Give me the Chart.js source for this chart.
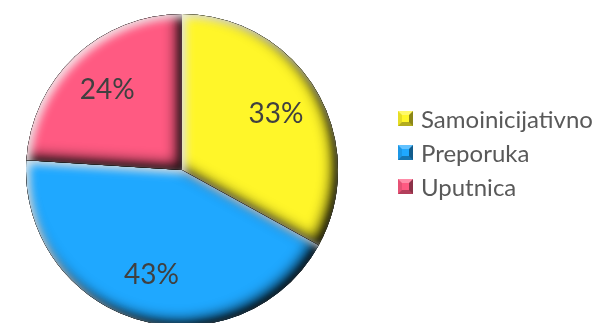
<!DOCTYPE html>
<html>
<head>
<meta charset="utf-8">
<script src="https://cdn.jsdelivr.net/npm/chart.js@4/dist/chart.umd.min.js"></script>
<style>
  html, body { margin: 0; padding: 0; background: #fff; overflow: hidden; }
  #wrap { position: relative; width: 605px; height: 326px; }
  #legend { position: absolute; left: 398px; top: 101px; font-family: Lato, sans-serif; font-size: 24px; color: #595959; }
  .item { display: flex; align-items: center; height: 34px; }
  .swatch { width: 15px; height: 15px; margin-right: 8px; box-sizing: border-box; border-style: solid; border-width: 4px; }
</style>
</head>
<body>
<div id="wrap">
  <canvas id="pie" width="605" height="326"></canvas>
  <div id="legend"></div>
</div>
<script>
const LABELS = ['Samoinicijativno', 'Preporuka', 'Uputnica'];
const VALUES = [33, 43, 24];
const COLORS = ['#FFF629', '#1FA8FF', '#FF5A82'];

function shade(hex, f) {
  const c = hex.replace('#', '');
  const ch = [0, 2, 4].map((i) => parseInt(c.slice(i, i + 2), 16));
  const out = ch.map((v) => Math.round(f < 0 ? v * (1 + f) : v + (255 - v) * f));
  return `rgb(${out.join(',')})`;
}

// Bevel: inner shadow on the lower/right edges, highlight on the upper/left.
const bevel = {
  id: 'bevel',
  afterDatasetsDraw(chart) {
    const ctx = chart.ctx;
    chart.getDatasetMeta(0).data.forEach((arc) => {
      const { x, y, startAngle, endAngle, outerRadius } = arc.getProps(['x', 'y', 'startAngle', 'endAngle', 'outerRadius'], true);
      const slice = () => {
        ctx.moveTo(x, y);
        ctx.arc(x, y, outerRadius, startAngle, endAngle);
        ctx.closePath();
      };
      const inner = (color, blur, dx, dy) => {
        ctx.save();
        ctx.beginPath();
        slice();
        ctx.clip();
        ctx.beginPath();
        ctx.rect(-1000, -1000, 3000, 3000);
        slice();
        ctx.shadowColor = color;
        ctx.shadowBlur = blur;
        ctx.shadowOffsetX = dx;
        ctx.shadowOffsetY = dy;
        ctx.fillStyle = '#000';
        ctx.fill('evenodd');
        ctx.restore();
      };
      inner('rgba(0,0,0,0.9)', 14, -5, -5);
      inner('rgba(0,0,0,0.5)', 6, -2, -2);
      inner('rgba(255,255,255,0.85)', 8, 4, 4);
    });
  },
};

const pctLabels = {
  id: 'pctLabels',
  afterDraw(chart) {
    const ctx = chart.ctx;
    ctx.save();
    ctx.font = '28px Lato, sans-serif';
    ctx.fillStyle = '#404040';
    ctx.textAlign = 'center';
    ctx.textBaseline = 'middle';
    chart.getDatasetMeta(0).data.forEach((arc, i) => {
      const { x, y, startAngle, endAngle, outerRadius } = arc.getProps(['x', 'y', 'startAngle', 'endAngle', 'outerRadius'], true);
      const mid = (startAngle + endAngle) / 2;
      const r = outerRadius * 0.7;
      ctx.fillText(VALUES[i] + '%', x + Math.cos(mid) * r, y + Math.sin(mid) * r);
    });
    ctx.restore();
  },
};

new Chart(document.getElementById('pie'), {
  type: 'pie',
  data: {
    labels: LABELS,
    datasets: [{
      data: VALUES,
      backgroundColor: COLORS,
      borderWidth: 0,
    }],
  },
  options: {
    responsive: false,
    animation: false,
    layout: { padding: { left: 26, top: 14, right: 267, bottom: 0 } },
    plugins: { legend: { display: false }, tooltip: { enabled: false } },
  },
  plugins: [bevel, pctLabels],
});

// Legend with small bevelled swatches
const legend = document.getElementById('legend');
LABELS.forEach((label, i) => {
  const row = document.createElement('div');
  row.className = 'item';
  const sw = document.createElement('span');
  sw.className = 'swatch';
  sw.style.background = COLORS[i];
  sw.style.borderColor = `${shade(COLORS[i], 0.3)} ${shade(COLORS[i], -0.45)} ${shade(COLORS[i], -0.3)} ${shade(COLORS[i], -0.1)}`;
  const txt = document.createElement('span');
  txt.textContent = label;
  row.appendChild(sw);
  row.appendChild(txt);
  legend.appendChild(row);
});
</script>
</body>
</html>
